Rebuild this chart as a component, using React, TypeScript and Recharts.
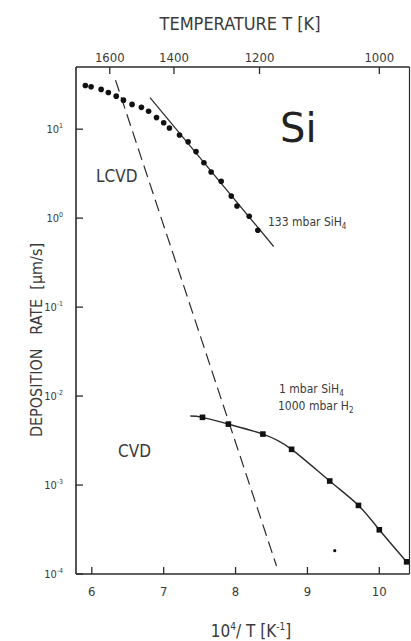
import React from "react";
import {
  ComposedChart,
  Line,
  Scatter,
  XAxis,
  YAxis,
} from "recharts";

// 133 mbar SiH4 (LCVD) measured points
const lcvdX = [5.91, 5.99, 6.13, 6.23, 6.34, 6.44, 6.56, 6.69, 6.79, 6.9, 7.0, 7.08, 7.22, 7.34, 7.45, 7.56, 7.66, 7.8, 7.94, 8.02, 8.19, 8.31];
const lcvdY = [31, 30, 28, 25.8, 23.5, 21.2, 19, 17.6, 15.9, 13.5, 11.8, 10.3, 8.6, 7.2, 5.6, 4.2, 3.3, 2.6, 1.77, 1.37, 1.05, 0.73];

// straight fit through the 133 mbar points
const fitX = [6.81, 8.53];
const fitY = [22.7, 0.48];

// dashed LCVD line
const dashX = [6.33, 8.57];
const dashY = [35.6, 0.000123];

// 1 mbar SiH4 + 1000 mbar H2 (CVD) measured points
const cvdX = [7.54, 7.9, 8.38, 8.78, 9.31, 9.71, 10.0, 10.38];
const cvdY = [0.00577, 0.00484, 0.00374, 0.00252, 0.00111, 0.00059, 0.000314, 0.000137];

// solid curve drawn through the CVD points
const curveX = [7.37, 7.54, 7.9, 8.38, 8.78, 9.31, 9.71, 10.0, 10.38];
const curveY = [0.00596, 0.00577, 0.00484, 0.00374, 0.00252, 0.00111, 0.00059, 0.000314, 0.000137];

// stray point
const strayX = [9.38];
const strayY = [0.000183];

const xTicks = [6, 7, 8, 9, 10];
const yTicks = [0.0001, 0.001, 0.01, 0.1, 1, 10];
const tempTicks = [1600, 1400, 1200, 1000];

const zip = (xs: number[], ys: number[]) => xs.map((x, i) => ({ x, y: ys[i] }));

const FONT = "'DejaVu Sans Condensed', 'Liberation Sans Narrow', 'DejaVu Sans', sans-serif";
const INK = "#2b2b2b";
const TXT = "#3a3a3a";
const X_DOMAIN: [number, number] = [5.78, 10.42];

function YTick({ x, y, payload }: any) {
  const exp = Math.round(Math.log10(payload.value));
  return (
    <g>
      <line x1={x} x2={x + 7} y1={y} y2={y} stroke={INK} strokeWidth={1.3} />
      <text x={x - 13} y={y + 4} textAnchor="end" fontFamily={FONT} fontSize={11} fill={TXT}>
        10
        <tspan dy={-5} fontSize={7}>{exp}</tspan>
      </text>
    </g>
  );
}

function XTick({ x, y, payload }: any) {
  return (
    <g>
      <line x1={x} x2={x} y1={y} y2={y - 7} stroke={INK} strokeWidth={1.3} />
      <text x={x} y={y + 22} textAnchor="middle" fontFamily={FONT} fontSize={13} fill={TXT}>
        {payload.value}
      </text>
    </g>
  );
}

function TopTick({ x, y, payload }: any) {
  return (
    <g>
      <line x1={x} x2={x} y1={y} y2={y + 7} stroke={INK} strokeWidth={1.3} />
      <text x={x} y={y - 5} textAnchor="middle" fontFamily={FONT} fontSize={13} fill={TXT}>
        {Math.round(1e4 / payload.value)}
      </text>
    </g>
  );
}

const Dot = ({ cx, cy }: any) => <circle cx={cx} cy={cy} r={2.8} fill="#111" />;
const Sq = ({ cx, cy }: any) => <rect x={cx - 2.8} y={cy - 2.8} width={5.6} height={5.6} fill="#111" />;
const Tiny = ({ cx, cy }: any) => <circle cx={cx} cy={cy} r={1.6} fill="#111" />;

export default function App() {
  return (
    <div style={{ position: "absolute", left: 0, top: 0, background: "#fff" }}>
      <ComposedChart width={411} height={641} margin={{ top: 0, right: 0, bottom: 0, left: 0 }}>
        <XAxis
          xAxisId="b"
          dataKey="x"
          type="number"
          domain={X_DOMAIN}
          allowDataOverflow
          ticks={xTicks}
          interval={0}
          height={67}
          tickSize={0}
          tickMargin={0}
          tick={<XTick />}
          axisLine={{ stroke: INK, strokeWidth: 1.6 }}
        />
        <XAxis
          xAxisId="t"
          orientation="top"
          dataKey="x"
          type="number"
          domain={X_DOMAIN}
          allowDataOverflow
          ticks={tempTicks.map((t) => 1e4 / t)}
          interval={0}
          height={67}
          tickSize={0}
          tickMargin={0}
          tick={<TopTick />}
          axisLine={{ stroke: INK, strokeWidth: 1.6 }}
        />
        <YAxis
          yAxisId="l"
          dataKey="y"
          type="number"
          scale="log"
          domain={[0.0001, 50]}
          allowDataOverflow
          ticks={yTicks}
          interval={0}
          width={76}
          tickSize={0}
          tickMargin={0}
          tick={<YTick />}
          axisLine={{ stroke: INK, strokeWidth: 1.6 }}
        />
        <YAxis
          yAxisId="r"
          orientation="right"
          type="number"
          domain={[0, 1]}
          width={1.5}
          tick={false}
          tickLine={false}
          axisLine={{ stroke: INK, strokeWidth: 1.2 }}
        />

        <Line
          xAxisId="b"
          yAxisId="l"
          data={zip(dashX, dashY)}
          dataKey="y"
          stroke={INK}
          strokeWidth={1.2}
          strokeDasharray="12 6"
          dot={false}
          isAnimationActive={false}
        />
        <Line
          xAxisId="b"
          yAxisId="l"
          data={zip(fitX, fitY)}
          dataKey="y"
          stroke={INK}
          strokeWidth={1.2}
          dot={false}
          isAnimationActive={false}
        />
        <Line
          xAxisId="b"
          yAxisId="l"
          type="natural"
          data={zip(curveX, curveY)}
          dataKey="y"
          stroke={INK}
          strokeWidth={1.4}
          dot={false}
          isAnimationActive={false}
        />
        <Scatter xAxisId="b" yAxisId="l" data={zip(lcvdX, lcvdY)} dataKey="y" shape={<Dot />} isAnimationActive={false} />
        <Scatter xAxisId="b" yAxisId="l" data={zip(cvdX, cvdY)} dataKey="y" shape={<Sq />} isAnimationActive={false} />
        <Scatter xAxisId="b" yAxisId="l" data={zip(strayX, strayY)} dataKey="y" shape={<Tiny />} isAnimationActive={false} />

        <text x={240} y={30} textAnchor="middle" fontFamily={FONT} fontSize={18} fill={TXT}>
          TEMPERATURE T [K]
        </text>
        <text x={251} y={637} textAnchor="middle" fontFamily={FONT} fontSize={17} fill={TXT}>
          10<tspan dy={-7} fontSize={10}>4</tspan>
          <tspan dy={7}>/ T  [K</tspan>
          <tspan dy={-7} fontSize={10}>-1</tspan>
          <tspan dy={7}>]</tspan>
        </text>
        <text
          x={0}
          y={0}
          transform="translate(42 340) rotate(-90)"
          textAnchor="middle"
          fontFamily={FONT}
          fontSize={16}
          fill={TXT}
          style={{ whiteSpace: "pre" }}
        >
          {"DEPOSITION   RATE  [\u00b5m/s]"}
        </text>

        <text x={280} y={142} fontFamily="'DejaVu Sans', sans-serif" fontSize={40} fill="#222">
          Si
        </text>
        <text x={96} y={182} fontFamily={FONT} fontSize={17} fill={TXT}>
          LCVD
        </text>
        <text x={118} y={457} fontFamily={FONT} fontSize={17} fill={TXT}>
          CVD
        </text>
        <text x={268} y={226} fontFamily={FONT} fontSize={12} fill={TXT}>
          133 mbar  SiH<tspan dy={3} fontSize={8}>4</tspan>
        </text>
        <text x={279} y={393} fontFamily={FONT} fontSize={12} fill={TXT}>
          1 mbar  SiH<tspan dy={3} fontSize={8}>4</tspan>
        </text>
        <text x={278} y={410} fontFamily={FONT} fontSize={12} fill={TXT}>
          1000 mbar H<tspan dy={3} fontSize={8}>2</tspan>
        </text>
      </ComposedChart>
    </div>
  );
}
